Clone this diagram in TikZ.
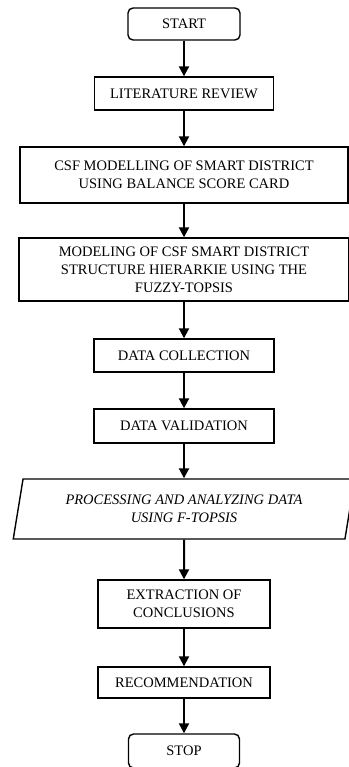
\documentclass[tikz,border=0pt]{standalone}
\usepackage{fontspec}
\setmainfont{Liberation Serif}
\usepackage{tikz}
\usetikzlibrary{positioning,arrows.meta,shapes.geometric}

\begin{document}
\begin{tikzpicture}[
  x=1pt, y=-1pt,
  block/.style={draw=black, line width=1.4pt, fill=white, align=center, inner sep=2pt,
                font=\fontsize{14.5}{18}\selectfont},
  term/.style={block, rounded corners=5pt},
  io/.style={block, trapezium, trapezium left angle=77, trapezium right angle=103,
             trapezium stretches=true, font=\fontsize{14.5}{18}\selectfont\itshape},
  arr/.style={-{Triangle[width=10pt,length=10pt]}, line width=2pt, color=black}
]
  \useasboundingbox (0,0) rectangle (348,767);

  % Start / end
  \node[term, minimum width=112pt, minimum height=32pt] (start) at (184,24) {START};
  \node[term, minimum width=111pt, minimum height=34pt] (stop) at (184,751) {STOP};

  % Steps
  \node[block, minimum width=179pt, minimum height=33pt] (lit) at (184,93.5) {LITERATURE REVIEW};
  \node[block, minimum width=328pt, minimum height=56pt] (csf) at (184,175)
    {CSF MODELLING OF SMART DISTRICT\\USING BALANCE SCORE CARD};
  \node[block, minimum width=330pt, minimum height=63pt] (model) at (184,269.5)
    {MODELING OF CSF SMART DISTRICT\\STRUCTURE HIERARKIE USING THE\\FUZZY-TOPSIS};
  \node[block, minimum width=180pt, minimum height=33pt] (collect) at (184,355.5) {DATA COLLECTION};
  \node[block, minimum width=180pt, minimum height=34pt] (valid) at (184,426) {DATA VALIDATION};

  % Processing (parallelogram)
  \node[io, minimum width=342pt, minimum height=60pt] (proc) at (184,509)
    {PROCESSING AND ANALYZING DATA\\USING F-TOPSIS};

  \node[block, minimum width=172pt, minimum height=48pt] (concl) at (184,604)
    {EXTRACTION OF\\CONCLUSIONS};
  \node[block, minimum width=172pt, minimum height=31pt] (recom) at (184,682.5) {RECOMMENDATION};

  % Arrows
  \draw[arr] (start) -- (lit);
  \draw[arr] (lit) -- (csf);
  \draw[arr] (csf) -- (model);
  \draw[arr] (model) -- (collect);
  \draw[arr] (collect) -- (valid);
  \draw[arr] (valid) -- (proc);
  \draw[arr] (proc) -- (concl);
  \draw[arr] (concl) -- (recom);
  \draw[arr] (recom) -- (stop);
\end{tikzpicture}
\end{document}
